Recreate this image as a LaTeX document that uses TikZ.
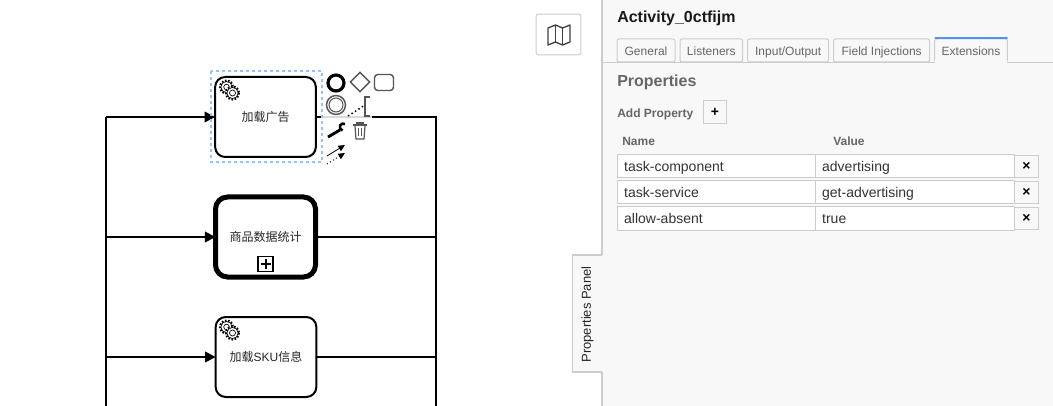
\documentclass[tikz,border=0pt]{standalone}
\usepackage{fontspec}
\setmainfont{Liberation Sans}
\newfontfamily\cjkfont{Noto Sans CJK SC}
\usepackage{xcolor}
\usetikzlibrary{arrows.meta, positioning, fit, shapes.geometric}
\definecolor{panelbg}{RGB}{248,248,248}
\definecolor{panelline}{RGB}{204,204,204}
\definecolor{paneltext}{RGB}{102,102,102}
\definecolor{celltext}{RGB}{51,51,51}
\definecolor{tabblue}{RGB}{82,145,245}
\definecolor{selectblue}{RGB}{150,195,245}
\definecolor{padgray}{RGB}{85,85,85}

\begin{document}
\begin{tikzpicture}[
    x=0.75pt, y=-0.75pt,
    flow/.style={line width=1.5pt, black},
    arr/.style={flow, -{Triangle[length=8pt, width=8pt]}},
    task/.style={rectangle, rounded corners=7.5pt, draw=black, line width=1.5pt, fill=white,
                 minimum height=60pt, minimum width=75.5pt, outer sep=0pt, align=center, text=black!85,
                 font=\fontsize{9}{11}\selectfont},
    cjktask/.style={task, font=\fontsize{9}{11}\selectfont\cjkfont},
    tabbox/.style={rectangle, rounded corners=1.5pt, draw=panelline, line width=0.75pt, fill=panelbg,
                   minimum height=17.25pt, inner sep=0pt, outer sep=0pt, text=paneltext,
                   text height=7.6pt, text depth=0.8pt,
                   font=\fontsize{9}{11}\selectfont},
    cell/.style={rectangle, draw=panelline, line width=0.75pt, fill=white, minimum height=17.25pt,
                 inner sep=0pt, outer sep=0pt, text=celltext, text height=9pt, text depth=0.8pt,
                 font=\fontsize{10.5}{12}\selectfont},
    namecell/.style={cell, minimum width=148.5pt, text width=138.5pt},
    valuecell/.style={cell, minimum width=149.25pt, text width=139.25pt},
    delbtn/.style={rectangle, draw=panelline, line width=0.75pt, fill=panelbg, minimum height=16.5pt,
                   minimum width=18pt, inner sep=0pt, outer sep=0pt, text=black,
                   font=\bfseries\fontsize{10.5}{12}\selectfont},
    head/.style={anchor=west, inner sep=0pt, text=paneltext, font=\bfseries\fontsize{9}{11}\selectfont},
    padicon/.style={draw=padgray, line width=1.1pt},
    gear/.pic={
        \draw[black, line width=1.5pt, dash pattern=on 1.2pt off 1.2pt] (-3,-3) circle (6.5);
        \draw[black, line width=0.5pt, fill=white] (-3,-3) circle (5.6);
        \draw[black, line width=0.5pt] (-3,-3) circle (2.8);
        \draw[black, line width=1.5pt, dash pattern=on 1.2pt off 1.2pt, fill=white] (3,3) circle (6.5);
        \draw[black, line width=0.5pt, fill=white] (3,3) circle (5.6);
        \draw[black, line width=0.5pt] (3,3) circle (3);
    },
]
    \useasboundingbox (0,0) rectangle (1053,406);
    \fill[white] (0,0) rectangle (1053,406);

    % Bus lines either side of the tasks
    \coordinate (busLtop) at (106,117);
    \coordinate (busLend) at (106,406);
    \coordinate (busLmid) at (106,237);
    \coordinate (busLlow) at (106,357);
    \coordinate (busRtop) at (436,117);
    \coordinate (busRend) at (436,406);
    \coordinate (busRmid) at (436,237);
    \coordinate (busRlow) at (436,357);

    % Tasks
    \node[cjktask] (taskAds) at (265.5,117) {加载广告};
    \node[cjktask, line width=3.75pt, rounded corners=9pt, minimum width=75pt, minimum height=60pt] (taskStats) at (265.5,237) {商品数据统计};
    \node[task] (taskSku) at (266,357) {{\cjkfont 加载}SKU{\cjkfont 信息}};

    \draw[flow] (busLend) -- (busLtop);
    \draw[arr] (busLtop) -- (taskAds);
    \draw[arr] (busLmid) -- (taskStats);
    \draw[arr] (busLlow) -- (taskSku);
    \draw[flow] (taskAds) -- (busRtop) -- (busRend);
    \draw[flow] (taskStats) -- (busRmid);
    \draw[flow] (taskSku) -- (busRlow);

    \pic at (229.5,90) {gear};
    \pic at (229.5,330) {gear};

    % Expand marker
    \node[rectangle, draw=black, line width=1.1pt, minimum size=11pt, inner sep=0pt] (marker) at (265.5,264) {};
    \draw[black, line width=1.5pt] (marker.center) ++(-5,0) -- ++(10,0);
    \draw[black, line width=1.5pt] (marker.center) ++(0,-5) -- ++(0,10);

    % Selection outline and context pad
    \draw[selectblue, line width=1.5pt, dash pattern=on 2.25pt off 2.25pt] (210.5,71.5) rectangle (321.5,162.5);
    \fill[white, opacity=0.85] (323,115) rectangle (372,119);
    \draw[black, line width=2.4pt] (336,83) circle (8);
    \node[diamond, padicon, minimum size=15pt, inner sep=0pt] (padGateway) at (360,82) {};
    \draw[padicon, rounded corners=2.5pt] (374.5,74.5) rectangle (393.5,90.5);
    \draw[padicon] (336,105) circle (9.5);
    \draw[padicon, line width=0.8pt] (336,105) circle (7);
    \draw[black, line width=1.1pt, dotted] (348,116) -- (365,105);
    \draw[padicon] (370,97) -- (365,97) -- (365,116) -- (370,116);
    % wrench
    \draw[black, line width=2.2pt] (328,137) -- (340,130);
    \draw[black, line width=1.9pt] (345,124) arc[start angle=-60, end angle=-260, radius=3.5];
    % trash
    \draw[padicon, line width=0.9pt] (353,125) -- (367,125);
    \draw[padicon, line width=0.9pt, fill=padgray] (357,122.5) rectangle (363,125);
    \draw[padicon, line width=0.9pt] (355,126) -- (356,139) -- (364,139) -- (365,126);
    \draw[padicon, line width=0.7pt] (358.5,128) -- (358.5,136);
    \draw[padicon, line width=0.7pt] (361.5,128) -- (361.5,136);
    % connect arrows
    \draw[black, line width=0.6pt, -{Triangle[length=5pt, width=4.5pt]}] (327,156) -- (345,145);
    \draw[black, line width=0.7pt, dotted, -{Triangle[length=5pt, width=4.5pt, sep=0pt]}] (327,164) -- (345,153);

    % Map button
    \node[rectangle, draw=panelline, line width=0.75pt, rounded corners=1.5pt, fill=white,
          minimum width=33.5pt, minimum height=30.5pt, outer sep=0pt] (mapbtn) at (558.5,34.5) {};
    \draw[black!75, line width=1pt, line join=round] (548,28) -- (555.5,25) -- (562.5,28) -- (570,25) -- (570,42)
        -- (562.5,45) -- (555.5,42) -- (548,45) -- cycle;
    \draw[black!75, line width=0.8pt] (555.5,25) -- (555.5,42);
    \draw[black!75, line width=0.8pt] (562.5,28) -- (562.5,45);

    % Properties panel
    \fill[panelbg] (601,0) rectangle (1053,406);
    \draw[panelline, line width=1.5pt] (601.5,0) -- (601.5,255);
    \draw[panelline, line width=1.5pt] (601.5,372) -- (601.5,406);
    \fill[panelbg] (572.5,255) rectangle (602.3,372);
    \draw[panelline, line width=0.9pt] (602.3,255) -- (572.5,255) -- (572.5,372) -- (602.3,372);
    \node[rotate=90, inner sep=0pt, text=black!85, font=\fontsize{9.75}{11}\selectfont] (paneltab) at (587.5,314.5) {Properties Panel};

    \node[anchor=west, inner sep=0pt, text=black!90, font=\bfseries\fontsize{12}{14}\selectfont] (panelTitle) at (617,18.5) {Activity\_0ctfijm};

    % Tabs
    \draw[panelline, line width=0.75pt] (602,62.5) -- (1053,62.5);
    \node[tabbox, minimum width=43.5pt, anchor=west] (tabGeneral) at (617,50.5) {General};
    \node[tabbox, minimum width=47pt, right=3.75pt of tabGeneral] (tabListeners) {Listeners};
    \node[tabbox, minimum width=60.75pt, right=3.75pt of tabListeners] (tabInout) {Input/Output};
    \node[tabbox, minimum width=72pt, right=3.75pt of tabInout] (tabField) {Field Injections};
    \node[tabbox, minimum width=54.5pt, right=3.75pt of tabField] (tabExt) {Extensions};
    \fill[panelbg] (tabExt.south west) ++(0.5,-2) rectangle ++(72,3);
    \draw[tabblue, line width=2.2pt, line cap=round] (tabExt.north west) ++(1,-1) -- ++(71,0);

    % Property table
    \node[anchor=west, inner sep=0pt, text=paneltext, font=\bfseries\fontsize{12}{14}\selectfont] (propTitle) at (617,82.5) {Properties};
    \node[head] (addLabel) at (617,114) {Add Property};
    \node[rectangle, draw=panelline, line width=0.75pt, minimum size=17.25pt, inner sep=0pt, fill=panelbg,
          font=\bfseries\fontsize{10.5}{12}\selectfont] (addbtn) at (715,112.5) {+};
    \node[head] (nameHead) at (622,141) {Name};
    \node[head] (valueHead) at (833,141) {Value};

    \node[namecell, anchor=west] (nameA) at (617.5,166.5) {task-component};
    \node[valuecell, right=0pt of nameA] (valueA) {advertising};
    \node[delbtn, right=0pt of valueA] (delA) {×};
    \node[namecell, below=2.25pt of nameA] (nameB) {task-service};
    \node[valuecell, right=0pt of nameB] (valueB) {get-advertising};
    \node[delbtn, right=0pt of valueB] (delB) {×};
    \node[namecell, below=2.25pt of nameB] (nameC) {allow-absent};
    \node[valuecell, right=0pt of nameC] (valueC) {true};
    \node[delbtn, right=0pt of valueC] (delC) {×};
\end{tikzpicture}
\end{document}
